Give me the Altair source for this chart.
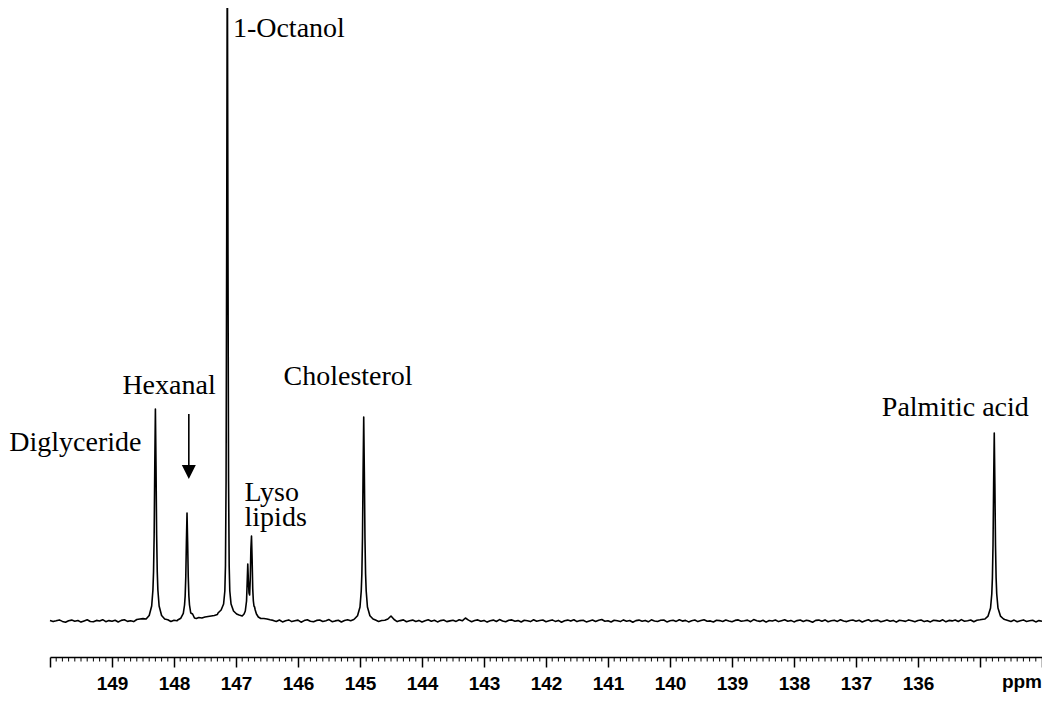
import altair as alt
import numpy as np
import pandas as pd

# ---------------- data ----------------
# baseline noise, one value per 0.05 ppm from 150.00 down to 134.00 (intensity in a.u.)
noise_rows = [
    [0.4, -0.6, 0.2, 1.1, -0.4, -1.3, 0.3, 0.9, -0.2, 0.5, -1.1, 0.1, 1.2, -0.5, -0.8, 0.6, 0.0, 1.3, -0.7, 0.4],
    [-0.3, 0.8, -1.0, 0.6, 1.2, -0.4, 0.3, -0.6, 1.5, 2.0, 2.4, 0, 0, 0, 0, 0, 0, 0, 1.2, -0.5],
    [0.8, 0.2, 0, 0, 0, 0, 0, 0, 3.5, 3.0, 4.0, 4.5, 5.0, 5.5, 6.5, 0, 0, 0, 0, 0],
    [0, 6.0, 0, 0, 0, 0, 0, 0, 0, 2.5, 2.0, 1.2, 0.6, -0.4, 1.0, -0.9, 0.3, 1.1, -0.6, 0.2],
    [0.9, -1.2, 0.4, 1.3, -0.3, -0.8, 0.6, 1.0, -0.5, 0.2, 1.4, -0.7, 0.1, 0.8, -1.0, 0.5, 1.2, 0.3, 1.5, 0],
    [0, 0, 0, 0, 0, 1.0, -0.4, 0.5, 0.8, 2.0, 5.0, 1.5, -0.6, 0.4, 1.1, -0.8, 0.2, 0.9, -0.5, 0.6],
    [-1.0, 0.3, 1.2, -0.2, 0.7, -0.9, 0.4, 1.0, -0.6, 0.1, 0.8, -0.4, 1.3, 0.2, 3.0, 0.9, -0.7, 0.5, 1.1, -0.3],
    [0.6, -1.1, 0.2, 0.9, -0.5, 1.4, 0.0, -0.8, 0.7, 1.1, -0.2, 0.4, -1.0, 0.8, 0.3, -0.6, 1.2, -0.3, 0.5, 1.0],
    [-0.7, 0.2, 1.1, -0.4, 0.6, -1.2, 0.3, 0.9, -0.1, 1.3, -0.6, 0.4, 0.8, -0.9, 0.1, 1.0, -0.5, 0.7, 1.5, -0.2],
    [0.3, -1.0, 0.8, 0.2, -0.6, 1.1, -0.3, 0.5, -1.3, 0.4, 0.9, -0.2, 0.6, -0.8, 1.2, 0.0, -0.5, 0.7, 1.0, -0.9],
    [0.2, 0.8, -0.4, 1.2, -0.1, 0.6, -0.9, 0.3, 1.0, -0.6, 0.5, 1.3, -0.2, 0.1, -1.0, 0.7, 0.4, -0.5, 0.9, 0.0],
    [-0.8, 0.6, 1.1, -0.3, 0.2, 0.9, -0.7, 1.4, 0.3, -0.4, 0.8, -1.1, 0.5, 0.0, 1.0, -0.6, 0.3, 1.2, -0.2, 0.6],
    [-0.9, 0.4, 1.0, -0.5, 0.7, 0.1, -1.2, 0.6, 0.9, -0.3, 1.1, -0.7, 0.2, 0.8, -0.4, 1.3, 0.0, -0.6, 0.5, 1.0],
    [-0.2, 0.7, -1.0, 0.3, 1.2, -0.5, 0.4, 0.9, -0.8, 0.1, 1.0, -0.3, 0.6, -1.1, 0.8, 0.2, -0.4, 1.1, 0.3, -0.7],
    [0.5, 1.0, -0.6, 0.2, -0.9, 0.8, 0.4, -0.3, 1.2, -0.8, 0.6, 0.1, 0.9, -0.5, 1.4, -0.2, 0.3, 1.0, -0.7, 0.8],
    [1.2, 1.8, 0, 0, 0, 0, 0, 0, 1.5, 0.6, -0.4, 0.9, -0.8, 0.3, 1.1, -0.5, 0.2, 0.8, -0.9, 0.4],
    [-0.3],
]

# peaks: explicit (ppm, intensity) points
digly_ppm = [148.45, 148.40, 148.36, 148.34, 148.33, 148.32, 148.31, 148.30, 148.29, 148.28, 148.27, 148.26, 148.24, 148.20, 148.15]
digly_int = [2.0, 5.5, 15, 31, 49, 86, 155, 212, 155, 86, 49, 31, 15, 5.5, 2.0]

hexanal_ppm = [147.94, 147.89, 147.85, 147.83, 147.82, 147.81, 147.80, 147.79, 147.78, 147.77, 147.76, 147.75, 147.73, 147.70, 147.67, 147.64]
hexanal_int = [1.0, 2.8, 7.6, 16, 25, 44, 79, 108, 79, 44, 25, 16, 8, 7, 3, 2.5]

octanol_ppm = [147.29, 147.24, 147.20, 147.18, 147.17, 147.16, 147.15, 147.14, 147.13, 147.12, 147.11, 147.10, 147.08, 147.04, 146.99]
octanol_int = [8, 11, 17, 30, 55, 140, 380, 700, 380, 140, 55, 30, 17, 10, 7]

lyso_ppm = [146.90, 146.87, 146.85, 146.83, 146.82, 146.81, 146.80, 146.79, 146.78, 146.77, 146.76, 146.75, 146.74, 146.73, 146.72, 146.71, 146.70, 146.69, 146.67, 146.64, 146.60]
lyso_int = [5, 7, 10, 20, 38, 57, 40, 28, 26, 42, 72, 85, 62, 32, 20, 15, 14, 11, 7, 4, 2.5]

chol_ppm = [145.09, 145.04, 145.00, 144.98, 144.97, 144.96, 144.95, 144.94, 144.93, 144.92, 144.91, 144.90, 144.88, 144.84, 144.79]
chol_int = [2.0, 5.3, 14, 30, 47, 83, 149, 204, 149, 83, 47, 30, 14, 5.3, 2.0]

palm_ppm = [134.92, 134.87, 134.83, 134.81, 134.80, 134.79, 134.78, 134.77, 134.76, 134.75, 134.74, 134.73, 134.71, 134.67, 134.62]
palm_int = [2.0, 4.9, 13, 27, 43, 76, 137, 188, 137, 76, 43, 27, 13, 4.9, 2.0]

# annotations
label_text = ["Diglyceride", "Hexanal", "1-Octanol", "Cholesterol", "Palmitic acid"]
label_ppm = [149.590, 148.080, 146.147, 145.192, 135.398]
label_y = [170, 227, 584, 236, 205]

lyso_text = ["Lyso\nlipids"]
lyso_text_ppm = [146.862]
lyso_text_y = [120]

arrow_ppm = [147.761]
arrow_top = [207]
arrow_bottom = [155]
arrow_head_y = [149]

major_ticks = list(range(134, 151))
minor_ticks = [round(v, 1) for v in np.arange(134.0, 150.001, 0.1) if abs(v - round(v)) > 1e-6]

# ---------------- assemble the spectrum ----------------
noise = [v for row in noise_rows for v in row]
assert len(noise) == 321
base_ppm = np.round(150.0 - 0.05 * np.arange(321), 2)
peaks = [(digly_ppm, digly_int), (hexanal_ppm, hexanal_int), (octanol_ppm, octanol_int),
         (lyso_ppm, lyso_int), (chol_ppm, chol_int), (palm_ppm, palm_int)]
keep = np.ones(321, dtype=bool)
for pp, _ in peaks:
    lo, hi = min(pp) - 1e-6, max(pp) + 1e-6
    keep &= ~((base_ppm >= lo) & (base_ppm <= hi))
all_ppm = list(base_ppm[keep]) + [p for pp, _ in peaks for p in pp]
all_int = list(np.array(noise)[keep]) + [v for _, vv in peaks for v in vv]
spec = pd.DataFrame({"ppm": all_ppm, "intensity": all_int}).sort_values("ppm", ascending=False)
spec["idx"] = np.arange(len(spec))

# ---------------- chart ----------------
PLOT_W, PLOT_H = 992, 649
xs = alt.Scale(domain=[134, 150], reverse=True, nice=False, zero=False)
ys = alt.Scale(domain=[-36, 613], nice=False, zero=False)
xaxis = alt.Axis(
    values=major_ticks, format="d",
    labelExpr="datum.value >= 136 && datum.value <= 149 ? datum.label : ''",
    tickSize=10, tickWidth=1.5, tickColor="black",
    domainColor="black", domainWidth=1.6,
    labelFont="Liberation Sans", labelFontWeight="bold", labelFontSize=19,
    labelColor="black", labelPadding=7, labelBaseline="top",
    labelFlush=False, labelOverlap=False, grid=False, title=None,
)

def X():
    return alt.X("ppm:Q", scale=xs, axis=xaxis)

line = alt.Chart(spec).mark_line(color="black", strokeWidth=1.6, strokeJoin="round").encode(
    x=X(), y=alt.Y("intensity:Q", scale=ys, axis=None), order="idx:Q"
)

labels_df = pd.DataFrame({"ppm": label_ppm, "y": label_y, "t": label_text})
labels = alt.Chart(labels_df).mark_text(
    font="Liberation Serif", fontSize=28, color="black", align="center", baseline="alphabetic"
).encode(x=X(), y=alt.Y("y:Q", scale=ys, axis=None), text="t:N")

lyso_df = pd.DataFrame({"ppm": lyso_text_ppm, "y": lyso_text_y, "t": lyso_text})
lyso_labels = alt.Chart(lyso_df).mark_text(
    font="Liberation Serif", fontSize=28, color="black", align="left", baseline="alphabetic",
    lineBreak="\n", lineHeight=25
).encode(x=X(), y=alt.Y("y:Q", scale=ys, axis=None), text="t:N")

arrow_df = pd.DataFrame({"ppm": arrow_ppm, "y1": arrow_top, "y2": arrow_bottom, "yh": arrow_head_y})
shaft = alt.Chart(arrow_df).mark_rule(color="black", strokeWidth=1.6).encode(
    x=X(), y=alt.Y("y1:Q", scale=ys, axis=None), y2="y2:Q"
)
head = alt.Chart(arrow_df).mark_point(
    shape="M-1,-1L1,-1L0,1Z", size=196, filled=True, color="black", opacity=1, strokeWidth=0
).encode(x=X(), y=alt.Y("yh:Q", scale=ys, axis=None))

minor_df = pd.DataFrame({"ppm": minor_ticks})
minor = alt.Chart(minor_df).mark_rule(color="black", strokeWidth=1).encode(
    x=X(), y=alt.value(PLOT_H), y2=alt.value(PLOT_H + 4.5)
)

unit_df = pd.DataFrame({"ppm": [134.0], "t": ["ppm"]})
unit = alt.Chart(unit_df).mark_text(
    font="Liberation Sans", fontWeight="bold", fontSize=19, color="black",
    align="right", baseline="alphabetic"
).encode(x=X(), y=alt.value(PLOT_H + 31), text="t:N")

chart = alt.layer(line, minor, labels, lyso_labels, shaft, head, unit).properties(
    width=PLOT_W, height=PLOT_H,
    autosize=alt.AutoSizeParams(type="none"),
    padding={"left": 42, "top": 0, "right": 0, "bottom": 35},
    background="white",
).configure_view(stroke=None)

chart.save("out.html", embed_options={"renderer": "svg", "actions": False})
